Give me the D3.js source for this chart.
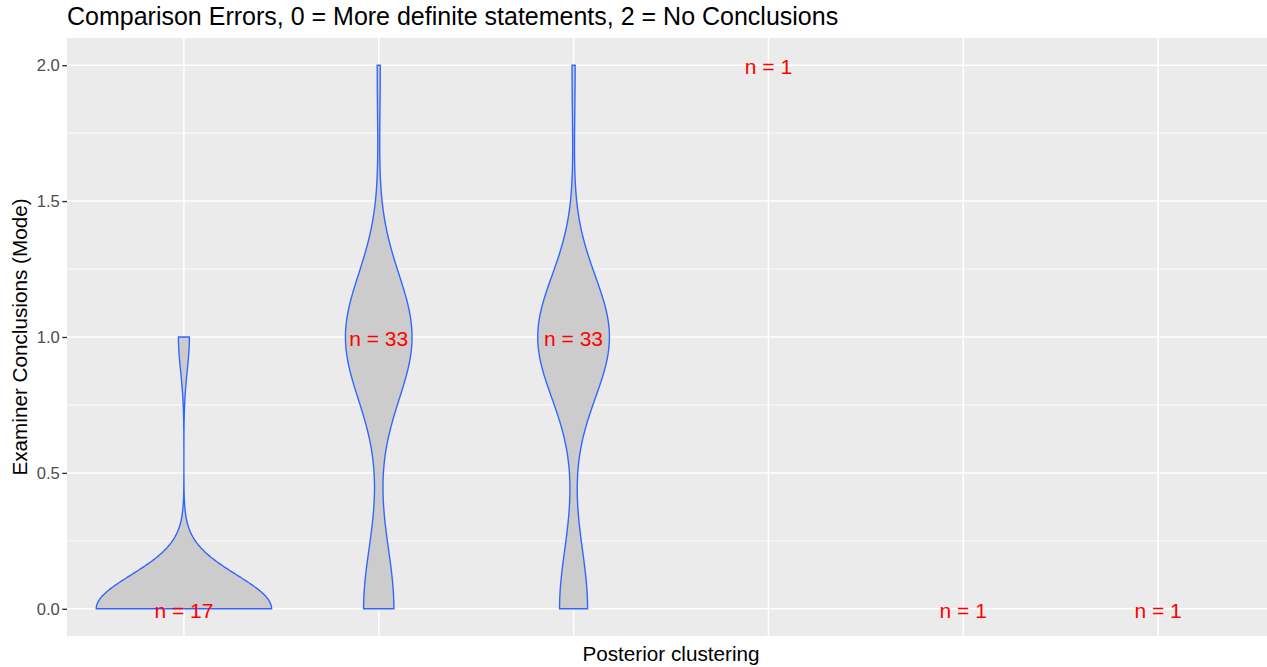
<!DOCTYPE html>
<html>
<head>
<meta charset="utf-8">
<script src="https://cdn.jsdelivr.net/npm/d3@7"></script>
<style>
  html, body { margin: 0; padding: 0; background: #ffffff; }
  svg { display: block; font-family: "Liberation Sans", Arial, sans-serif; }
</style>
</head>
<body>
<svg id="chart" width="1267" height="667"></svg>
<script>
// Posterior cluster ids (the axis labels are hidden)
const categories = ["1", "2", "3", "4", "5", "6"];
// Modal examiner conclusion levels and how many items fall in each, per cluster
const conclusionLevels = [0, 1, 2];
const countsAt0 = [16, 10, 9, 0, 1, 1];
const countsAt1 = [1, 22, 23, 0, 0, 0];
const countsAt2 = [0, 1, 1, 1, 0, 0];
// Y axis
const yTicks = [0, 0.5, 1, 1.5, 2];
const yTickLabels = ["0.0", "0.5", "1.0", "1.5", "2.0"];
const yMinor = [0.25, 0.75, 1.25, 1.75];

const titleText = "Comparison Errors, 0 = More definite statements, 2 = No Conclusions";
const xTitle = "Posterior clustering";
const yTitle = "Examiner Conclusions (Mode)";

const W = 1267, H = 667;
const panel = { left: 67, right: 1275, top: 38, bottom: 636 };

const svg = d3.select("#chart");

// expand counts into observations for each cluster
const groups = categories.map((c, i) => {
  const counts = [countsAt0[i], countsAt1[i], countsAt2[i]];
  const obs = [];
  conclusionLevels.forEach((lv, j) => { for (let k = 0; k < counts[j]; k++) obs.push(lv); });
  return { cat: c, obs };
});

const x = d3.scalePoint().domain(categories).range([panel.left, panel.right]).padding(0.6);
const y = d3.scaleLinear().domain([-0.1, 2.1]).range([panel.bottom, panel.top]);

// Silverman's rule of thumb (as R's bw.nrd0)
function bwNrd0(v) {
  const sorted = v.slice().sort(d3.ascending);
  const hi = d3.deviation(v);
  const iqr = d3.quantileSorted(sorted, 0.75) - d3.quantileSorted(sorted, 0.25);
  let lo = Math.min(hi, iqr / 1.34);
  if (!lo) lo = hi || Math.abs(v[0]) || 1;
  return 0.9 * lo * Math.pow(v.length, -0.2);
}

// Gaussian kernel density, trimmed to the data range
function violinDensity(v, nPts) {
  const bw = bwNrd0(v);
  const lo = d3.min(v), hi = d3.max(v);
  const norm = 1 / (bw * Math.sqrt(2 * Math.PI) * v.length);
  return d3.range(nPts).map(k => {
    const t = lo + (hi - lo) * k / (nPts - 1);
    const d = d3.sum(v, o => Math.exp(-0.5 * ((t - o) / bw) ** 2)) * norm;
    return { y: t, d };
  });
}

groups.forEach(g => {
  g.density = g.obs.length >= 2 ? violinDensity(g.obs, 512) : null;
});
const maxDens = d3.max(groups.filter(g => g.density), g => d3.max(g.density, p => p.d));
const halfMax = 0.45 * x.step();

// panel background
svg.append("rect")
  .attr("x", panel.left).attr("y", panel.top)
  .attr("width", panel.right - panel.left).attr("height", panel.bottom - panel.top)
  .attr("fill", "#EBEBEB");

// grid
const grid = svg.append("g");
grid.selectAll("line.minor").data(yMinor).join("line")
  .attr("x1", panel.left).attr("x2", panel.right)
  .attr("y1", d => y(d)).attr("y2", d => y(d))
  .attr("stroke", "#ffffff").attr("stroke-width", 0.8);
grid.selectAll("line.majory").data(yTicks).join("line")
  .attr("x1", panel.left).attr("x2", panel.right)
  .attr("y1", d => y(d)).attr("y2", d => y(d))
  .attr("stroke", "#ffffff").attr("stroke-width", 1.5);
grid.selectAll("line.majorx").data(categories).join("line")
  .attr("x1", d => x(d)).attr("x2", d => x(d))
  .attr("y1", panel.top).attr("y2", panel.bottom)
  .attr("stroke", "#ffffff").attr("stroke-width", 1.5);

// violins
const area = d3.area()
  .y(p => y(p.y));
svg.append("g").selectAll("path")
  .data(groups.filter(g => g.density))
  .join("path")
  .attr("d", g => area
      .x0(p => x(g.cat) - p.d / maxDens * halfMax)
      .x1(p => x(g.cat) + p.d / maxDens * halfMax)(g.density))
  .attr("fill", "#CCCCCC")
  .attr("stroke", "#3366FF")
  .attr("stroke-width", 1.4);

// sample size labels at the median
svg.append("g").selectAll("text")
  .data(groups)
  .join("text")
  .attr("x", g => x(g.cat))
  .attr("y", g => y(d3.median(g.obs)))
  .attr("dy", 9.2)
  .attr("text-anchor", "middle")
  .attr("font-size", 21)
  .attr("fill", "#FF0000")
  .text(g => "n = " + g.obs.length);

// y axis
const yAxis = d3.axisLeft(y).tickValues(yTicks)
  .tickFormat((d, i) => yTickLabels[i]).tickSize(4.7).tickPadding(2.5);
const yg = svg.append("g").attr("transform", `translate(${panel.left},0)`).call(yAxis);
yg.select(".domain").remove();
yg.selectAll(".tick line").attr("stroke", "#333333").attr("stroke-width", 1.4);
yg.selectAll(".tick text").attr("fill", "#4D4D4D").attr("font-size", 16.6)
  .attr("font-family", "Liberation Sans, Arial, sans-serif");

// titles
svg.append("text")
  .attr("x", 67).attr("y", 25)
  .attr("font-size", 25).attr("fill", "#000000")
  .text(titleText);

svg.append("text")
  .attr("x", (panel.left + panel.right) / 2).attr("y", 661)
  .attr("text-anchor", "middle")
  .attr("font-size", 20.7).attr("fill", "#000000")
  .text(xTitle);

svg.append("text")
  .attr("transform", `translate(27,${(panel.top + panel.bottom) / 2}) rotate(-90)`)
  .attr("text-anchor", "middle")
  .attr("font-size", 20.7).attr("fill", "#000000")
  .text(yTitle);
</script>
</body>
</html>
